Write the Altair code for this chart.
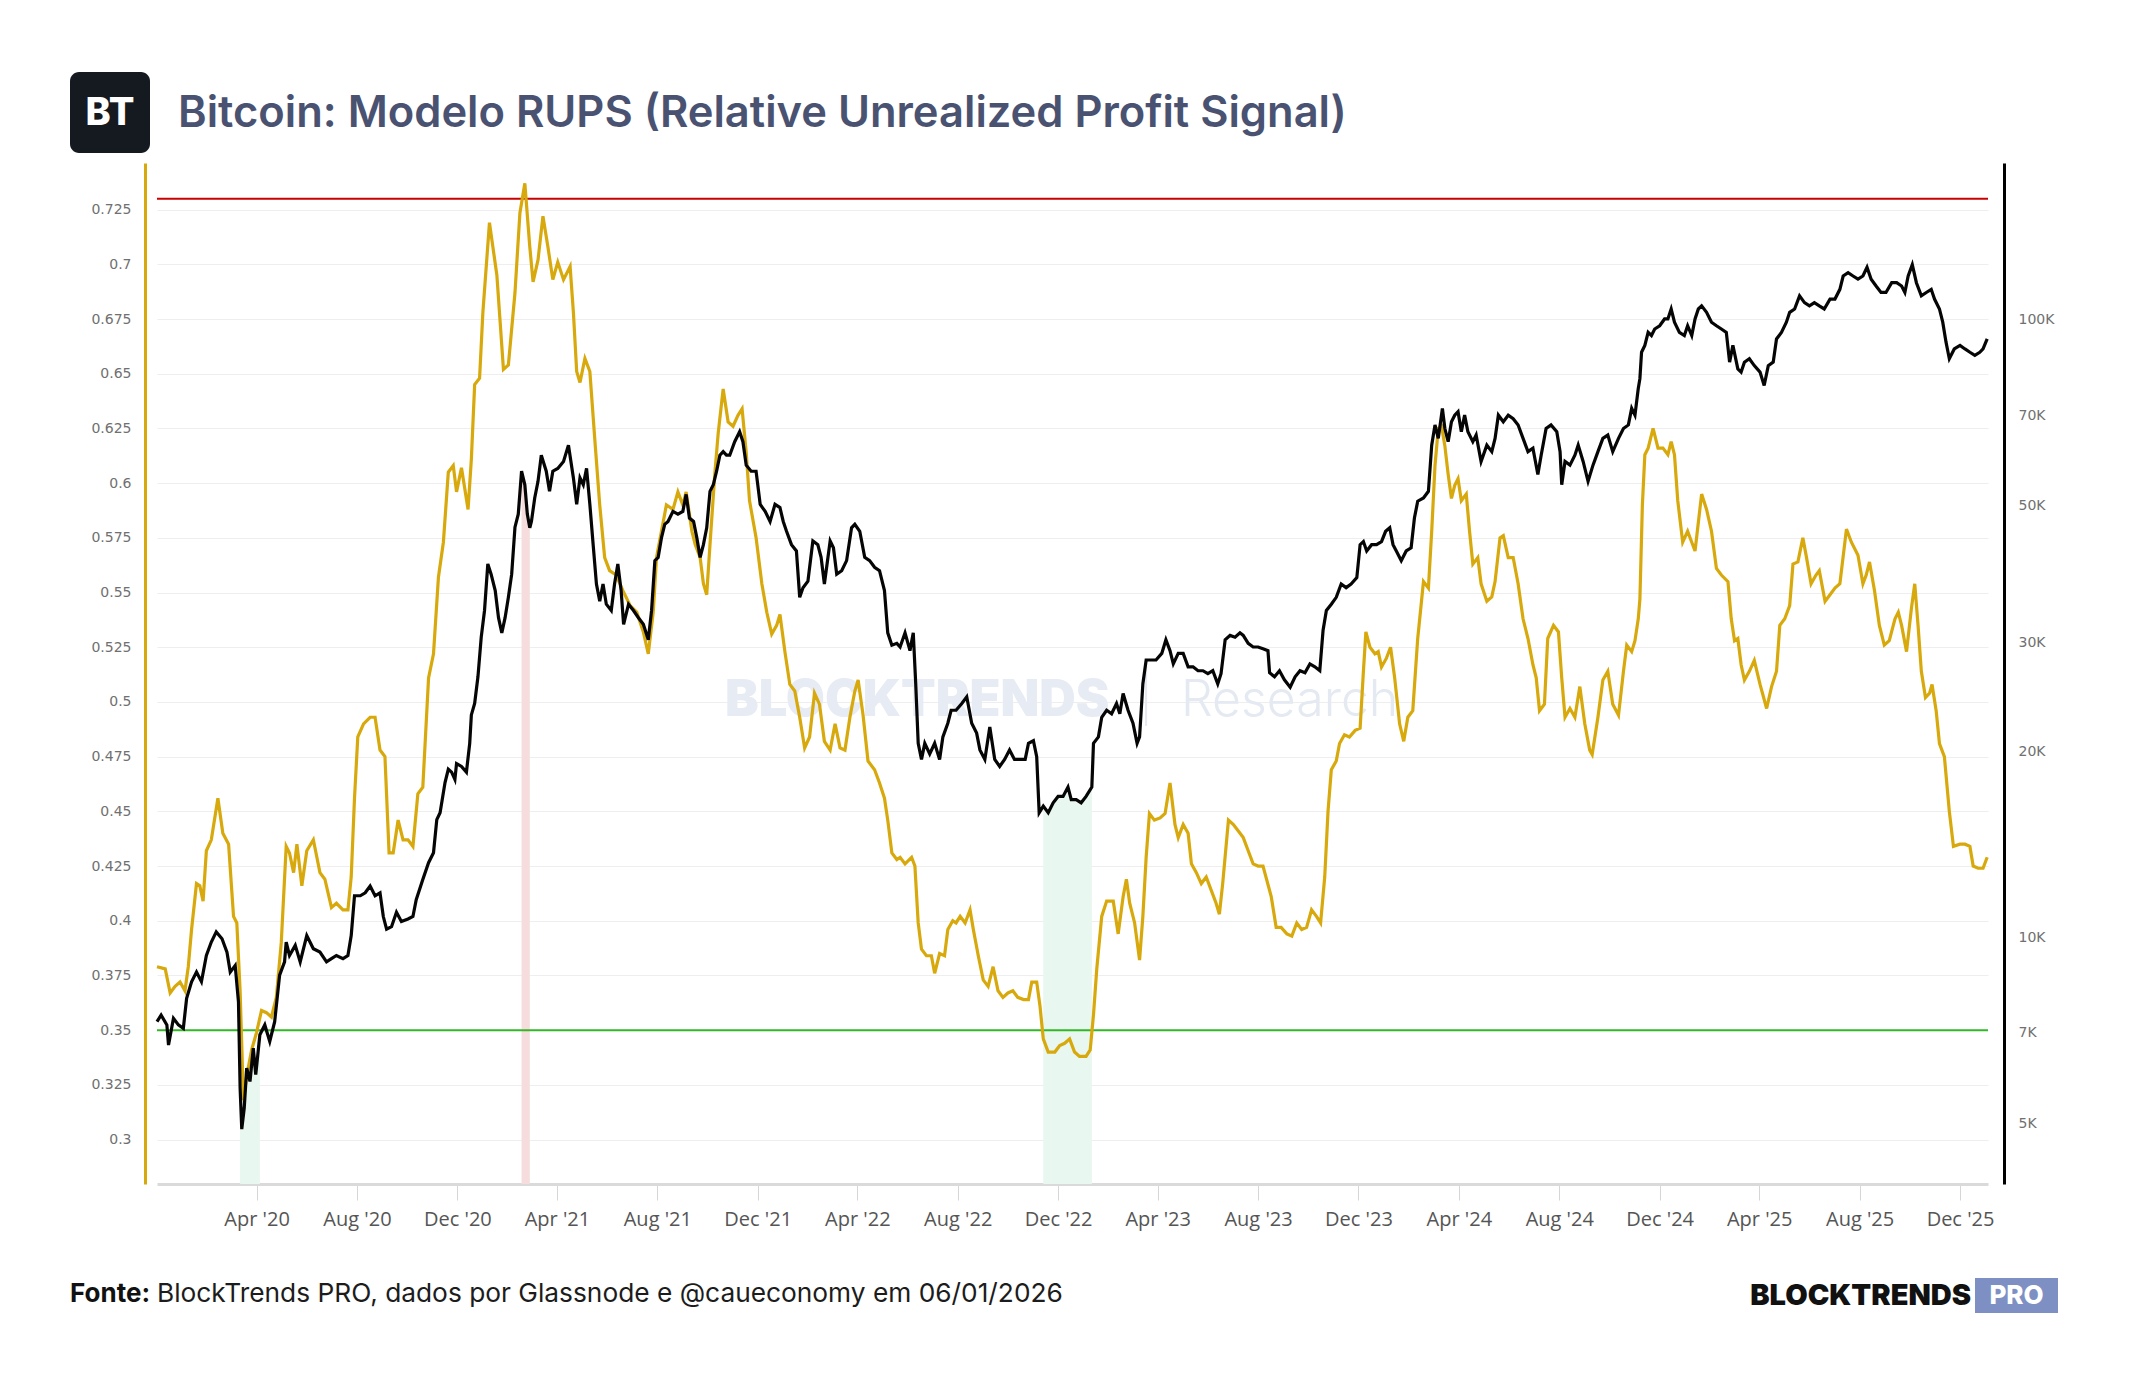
import altair as alt
import pandas as pd

# ---------------------------------------------------------------- data
START = "2019-12-01"  # day 0 of the day counters below

# Relative Unrealized Profit Signal (left axis)
rups_day = [
    1, 11, 17, 23, 29, 35, 39, 43, 49, 53, 57, 61, 67, 75, 81, 88, 94, 98, 102, 106,
    110, 116, 122, 128, 134, 140, 146, 152, 158, 162, 167, 171, 177, 183, 191, 199, 205, 213, 219, 227,
    233, 237, 241, 245, 252, 260, 266, 272, 278, 283, 288, 294, 300, 306, 312, 318, 324, 331, 337, 343,
    349, 355, 361, 365, 371, 379, 383, 387, 393, 397, 405, 414, 422, 428, 436, 442, 448,
    454, 458, 464, 470, 476, 482, 488, 495, 503, 507, 511, 515, 521, 527, 533, 539, 545, 551, 559,
    567, 576, 584, 592, 598, 604, 608, 614, 620, 628, 634, 640, 644, 651, 655, 661, 665, 669, 673, 679,
    683, 689, 695, 701, 707, 712, 717, 721, 729, 736, 742, 748, 754, 758, 764, 770, 776, 782, 788, 794,
    800, 806, 812, 819, 825, 831, 837, 843, 849, 853, 859, 865, 873, 879, 885, 889, 894, 900,
    904, 910, 918, 922, 926, 930, 936, 942, 946, 952, 958, 962, 968, 972, 977, 983, 989, 993, 999, 1005,
    1011, 1017, 1023, 1029, 1035, 1041, 1047, 1054, 1060, 1064, 1070, 1074, 1078, 1084, 1092, 1098, 1104, 1110, 1116, 1122,
    1130, 1135, 1139, 1143, 1149, 1155, 1163, 1169, 1175, 1179, 1183, 1189, 1195, 1199, 1203, 1207, 1213, 1220, 1226, 1232,
    1238, 1242, 1248, 1254, 1258, 1264, 1270, 1276, 1282, 1288, 1292, 1296, 1303, 1309, 1315, 1321, 1327, 1333, 1339, 1345,
    1355, 1361, 1367, 1374, 1380, 1386, 1392, 1398, 1404, 1410, 1415, 1420, 1424, 1428, 1434, 1438, 1444, 1450, 1457, 1463,
    1467, 1470, 1475, 1481, 1485, 1489, 1495, 1500, 1505, 1511, 1516, 1521, 1527, 1533, 1540, 1546, 1550, 1554, 1558, 1562,
    1566, 1570, 1574, 1578, 1582, 1586, 1592, 1596, 1600, 1606, 1610, 1617, 1623, 1627, 1633, 1637, 1643, 1649, 1655, 1661,
    1667, 1673, 1677, 1681, 1687, 1691, 1698, 1704, 1708, 1712, 1718, 1724, 1730, 1736, 1742, 1745, 1752, 1758, 1764, 1770,
    1777, 1783, 1787, 1793, 1797, 1801,
    1803, 1806, 1809, 1813, 1819, 1825, 1831, 1837, 1841, 1845, 1849, 1855, 1861, 1866, 1870, 1874, 1878, 1884, 1890, 1896,
    1902, 1910, 1914, 1918, 1922, 1926, 1930, 1936, 1942, 1949, 1957, 1963, 1969, 1973, 1979, 1985, 1989, 1995, 2001, 2005,
    2011, 2017, 2021, 2028, 2034, 2040, 2046, 2054, 2060, 2068, 2074, 2078, 2082, 2088, 2094, 2100, 2106, 2113, 2117, 2121,
    2127, 2133, 2137, 2141, 2145, 2150, 2155, 2158, 2163, 2167, 2173, 2179, 2184, 2192, 2198, 2204, 2208, 2214, 2220, 2225,
]
rups_value = [
    0.379, 0.378, 0.367, 0.370, 0.372, 0.368, 0.379, 0.396, 0.417, 0.416, 0.409, 0.432, 0.437, 0.456, 0.440, 0.435, 0.402, 0.399, 0.368, 0.318,
    0.329, 0.341, 0.349, 0.359, 0.358, 0.356, 0.365, 0.390, 0.434, 0.431, 0.422, 0.435, 0.416, 0.432, 0.437, 0.422, 0.419, 0.406, 0.408, 0.405,
    0.405, 0.420, 0.456, 0.484, 0.490, 0.493, 0.493, 0.478, 0.475, 0.431, 0.431, 0.446, 0.437, 0.437, 0.434, 0.458, 0.461, 0.511, 0.522, 0.557,
    0.573, 0.605, 0.608, 0.596, 0.607, 0.588, 0.611, 0.645, 0.648, 0.678, 0.719, 0.695, 0.652, 0.654, 0.687, 0.7235, 0.737,
    0.708, 0.692, 0.702, 0.722, 0.708, 0.693, 0.701, 0.693, 0.699, 0.678, 0.651, 0.646, 0.657, 0.651, 0.620, 0.590, 0.566, 0.560, 0.558,
    0.551, 0.544, 0.541, 0.532, 0.522, 0.541, 0.566, 0.578, 0.590, 0.588, 0.596, 0.590, 0.596, 0.578, 0.572, 0.566, 0.554, 0.549, 0.572, 0.605,
    0.623, 0.643, 0.628, 0.626, 0.631, 0.634, 0.614, 0.592, 0.575, 0.554, 0.541, 0.531, 0.535, 0.540, 0.523, 0.508, 0.505, 0.493, 0.479, 0.484,
    0.504, 0.499, 0.482, 0.478, 0.490, 0.479, 0.478, 0.493, 0.505, 0.510, 0.494, 0.473, 0.469, 0.463, 0.456, 0.446, 0.431, 0.428,
    0.429, 0.426, 0.429, 0.425, 0.399, 0.387, 0.384, 0.384, 0.376, 0.385, 0.384, 0.396, 0.400, 0.399, 0.402, 0.399, 0.405, 0.396, 0.384, 0.373,
    0.370, 0.379, 0.368, 0.365, 0.367, 0.368, 0.365, 0.364, 0.364, 0.372, 0.372, 0.361, 0.346, 0.340, 0.340, 0.343, 0.344, 0.346, 0.340, 0.338,
    0.338, 0.341, 0.357, 0.378, 0.402, 0.409, 0.409, 0.394, 0.411, 0.419, 0.408, 0.399, 0.382, 0.402, 0.429, 0.449, 0.446, 0.447, 0.449, 0.463,
    0.444, 0.438, 0.444, 0.440, 0.426, 0.422, 0.417, 0.420, 0.414, 0.408, 0.403, 0.417, 0.446, 0.444, 0.441, 0.438, 0.432, 0.426, 0.425, 0.425,
    0.411, 0.397, 0.397, 0.394, 0.393, 0.399, 0.396, 0.397, 0.405, 0.402, 0.399, 0.420, 0.450, 0.469, 0.473, 0.481, 0.485, 0.484, 0.487, 0.488,
    0.514, 0.532, 0.525, 0.522, 0.523, 0.516, 0.520, 0.525, 0.511, 0.490, 0.482, 0.493, 0.496, 0.529, 0.555, 0.552, 0.578, 0.608, 0.625, 0.626,
    0.617, 0.604, 0.593, 0.599, 0.602, 0.592, 0.595, 0.578, 0.563, 0.566, 0.554, 0.546, 0.548, 0.555, 0.575, 0.576, 0.566, 0.566, 0.554, 0.538,
    0.529, 0.517, 0.511, 0.496, 0.499, 0.529, 0.535, 0.532, 0.511, 0.493, 0.497, 0.493, 0.507, 0.490, 0.478, 0.476, 0.493, 0.510, 0.514, 0.499,
    0.494, 0.514, 0.526, 0.523, 0.528, 0.538,
    0.547, 0.590, 0.613, 0.616, 0.625, 0.616, 0.616, 0.613, 0.619, 0.613, 0.592, 0.573, 0.578, 0.573, 0.569, 0.582, 0.595, 0.588, 0.578, 0.561,
    0.558, 0.555, 0.538, 0.528, 0.529, 0.517, 0.510, 0.514, 0.519, 0.508, 0.497, 0.507, 0.514, 0.535, 0.538, 0.544, 0.563, 0.564, 0.575, 0.567,
    0.554, 0.558, 0.560, 0.546, 0.549, 0.552, 0.554, 0.579, 0.573, 0.567, 0.554, 0.558, 0.564, 0.551, 0.535, 0.526, 0.528, 0.538, 0.541, 0.535,
    0.523, 0.543, 0.554, 0.535, 0.514, 0.502, 0.504, 0.508, 0.496, 0.481, 0.475, 0.450, 0.434, 0.435, 0.435, 0.434, 0.425, 0.424, 0.424, 0.429,
]

# Bitcoin price in thousands of USD (right axis, log scale)
btc_day = [
    1, 6, 13, 15, 21, 27, 33, 37, 43, 49, 55, 61, 67, 73, 80, 86, 90, 96, 100, 102,
    104, 107, 110, 114, 118, 121, 126, 132, 138, 144, 150, 156, 158, 162, 169, 175, 183, 191, 199, 207,
    213, 219, 227, 233, 237, 241, 248, 254, 260, 266, 272, 276, 280, 286, 292, 298, 306, 312, 316, 324,
    331, 337, 341, 345, 351, 355, 359, 363, 365, 371, 377, 381, 383, 387, 391, 395, 399, 403, 407, 412,
    416, 420, 424, 428, 432, 436, 440, 444, 448, 451, 454,
    456, 460, 464, 468, 474, 478, 482, 488, 495, 501, 507, 511, 515, 519, 523, 527, 531, 535, 539, 543,
    547, 553, 557, 561, 565, 568, 574, 580, 586, 592, 598, 602, 606, 610, 614, 618, 622, 628, 634, 640,
    644, 648, 653, 657, 661, 665, 669, 673, 677, 681, 685, 689, 693, 697, 703, 709, 713, 717, 723, 729,
    734, 740, 746, 752, 758, 762, 766, 772, 778, 782, 786, 792, 798, 804, 808, 812, 819, 823, 827, 833,
    839, 845, 849, 855, 861, 867, 873, 879, 885, 889, 894, 900,
    904, 910, 916, 920, 923, 926, 930, 934, 940, 946, 952, 956, 962, 966, 972, 979, 985, 991, 997, 1001,
    1007, 1013, 1019, 1025, 1031, 1037, 1043, 1049, 1056, 1060, 1066, 1070, 1073, 1078, 1084, 1090, 1096, 1102, 1108, 1112,
    1118, 1124, 1130, 1137, 1139, 1145, 1149, 1155, 1161, 1167, 1171, 1175, 1181, 1187, 1192, 1195, 1199, 1203, 1209, 1215,
    1222, 1227, 1232, 1236, 1242, 1248, 1254, 1260, 1266, 1272, 1278, 1284, 1290, 1294, 1299, 1305, 1311, 1317, 1321, 1327,
    1333, 1339, 1345, 1351,
    1353, 1359, 1365, 1371, 1378, 1384, 1390, 1396, 1402, 1408, 1414, 1418, 1422, 1428, 1434, 1440, 1446, 1452, 1459, 1463,
    1467, 1471, 1477, 1483, 1489, 1494, 1499, 1503, 1507, 1513, 1519, 1525, 1529, 1533, 1540, 1546, 1550, 1554, 1558, 1563,
    1566, 1570, 1574, 1578, 1582, 1586, 1590, 1594, 1600, 1604, 1610, 1617, 1623, 1627, 1631, 1637, 1643, 1649, 1655, 1661,
    1667, 1673, 1679, 1683, 1689, 1695, 1702, 1706, 1708, 1712, 1718, 1724, 1728, 1734, 1740, 1746, 1752, 1758, 1764, 1770,
    1777, 1783, 1789, 1793, 1797, 1801,
    1803, 1805, 1809, 1813, 1817, 1821, 1827, 1833, 1837, 1841, 1845, 1851, 1857, 1861, 1866, 1870, 1874, 1878, 1884, 1890,
    1896, 1902, 1908, 1912, 1916, 1922, 1926, 1930, 1936, 1942, 1949, 1954, 1959, 1965, 1969, 1975, 1981, 1985, 1991, 1997,
    2003, 2009, 2015, 2021, 2027, 2034, 2040, 2046, 2050, 2056, 2062, 2068, 2074, 2079, 2084, 2090, 2096, 2102, 2109, 2115,
    2121, 2125, 2129, 2134, 2139, 2145, 2151, 2157, 2161, 2167, 2171, 2175, 2179, 2185, 2192, 2198, 2204, 2210, 2216, 2220,
    2225,
]
btc_kusd = [
    7.30, 7.48, 7.21, 6.69, 7.39, 7.21, 7.12, 7.96, 8.47, 8.78, 8.47, 9.34, 9.82, 10.2, 9.94, 9.46, 8.78, 9.00, 7.86, 5.70,
    4.89, 5.29, 6.14, 5.84, 6.61, 5.99, 6.95, 7.21, 6.78, 7.30, 8.68, 9.12, 9.82, 9.34, 9.70, 9.12, 10.06, 9.58, 9.46, 9.12,
    9.23, 9.34, 9.23, 9.34, 10.06, 11.67, 11.67, 11.8, 12.1, 11.67, 11.8, 10.8, 10.3, 10.4, 10.97, 10.6, 10.7, 10.8, 11.5, 12.4,
    13.2, 13.7, 15.5, 15.9, 17.8, 18.7, 18.5, 18.0, 19.1, 18.9, 18.5, 20.6, 22.9, 23.9, 26.4, 30.6, 33.8, 40.2, 38.7, 36.4,
    32.9, 31.1, 32.9, 35.5, 38.7, 46.1, 48.4, 56.8, 54.0, 48.4, 46.0,
    47.1, 51.4, 54.7, 60.3, 56.8, 52.7, 56.8, 57.4, 58.9, 62.6, 55.4, 50.2, 55.4, 54.0, 57.4, 50.2, 43.2, 37.3, 35.0, 37.3,
    34.6, 33.8, 37.3, 40.2, 36.4, 32.1, 34.6, 33.8, 32.9, 32.1, 30.3, 33.8, 40.7, 41.2, 44.3, 46.6, 47.1, 48.9, 48.4, 48.9,
    52.1, 47.7, 47.1, 44.3, 41.2, 43.2, 46.0, 52.7, 54.0, 56.8, 60.3, 61.1, 60.3, 60.3, 63.4, 65.8, 63.4, 58.1, 56.8, 56.8,
    50.2, 48.9, 47.1, 50.2, 49.6, 47.1, 45.4, 43.2, 42.2, 35.5, 36.8, 37.7, 43.8, 43.2, 41.2, 37.3, 43.8, 42.7, 38.7, 39.2,
    40.7, 46.0, 46.6, 45.4, 41.2, 40.7, 39.7, 39.2, 36.4, 31.1, 29.7, 29.9,
    29.5, 31.1, 29.1, 31.1, 25.7, 20.6, 19.4, 20.6, 19.8, 20.6, 19.4, 21.1, 22.2, 23.3, 23.3, 23.9, 24.5, 22.2, 21.4, 20.1,
    19.4, 21.9, 19.4, 18.9, 19.4, 20.1, 19.4, 19.4, 19.4, 20.6, 20.8, 19.6, 15.9, 16.3, 15.9, 16.5, 16.9, 16.9, 17.5, 16.7,
    16.7, 16.5, 16.9, 17.5, 20.6, 21.1, 22.7, 23.3, 23.0, 23.9, 23.0, 24.8, 23.3, 22.2, 20.6, 21.1, 25.7, 28.1, 28.1, 28.1,
    28.8, 30.3, 29.1, 27.7, 28.8, 28.8, 27.4, 27.4, 27.0, 27.0, 26.7, 27.0, 25.7, 26.7, 30.3, 30.8, 30.6, 31.1, 30.8, 29.9,
    29.5, 29.5, 29.3, 29.1,
    26.8, 26.4, 27.0, 26.1, 25.4, 26.4, 27.0, 26.8, 27.7, 27.4, 27.0, 31.4, 33.8, 34.6, 35.5, 37.3, 36.8, 37.3, 38.2, 43.2,
    43.7, 42.2, 43.2, 43.2, 43.7, 45.4, 46.0, 43.2, 42.2, 40.7, 42.2, 42.7, 47.7, 50.8, 51.4, 52.7, 62.6, 67.5, 64.2, 71.8,
    66.6, 63.4, 68.3, 70.0, 70.9, 65.8, 70.0, 65.8, 63.4, 65.0, 58.9, 62.6, 61.1, 64.2, 70.0, 68.3, 70.0, 69.1, 67.5, 64.2,
    61.1, 61.9, 56.1, 60.3, 66.6, 67.5, 65.8, 61.1, 54.0, 58.9, 58.1, 60.3, 62.6, 58.9, 54.7, 58.1, 61.1, 64.2, 65.0, 61.1,
    64.2, 66.6, 67.5, 71.8, 70.0, 77.3,
    80.2, 88.5, 90.8, 95.3, 94.2, 96.5, 97.7, 100.2, 100.2, 104.0, 99.0, 95.3, 94.2, 97.7, 94.2, 100.2, 104.0, 105.2, 102.7, 99.0,
    97.7, 96.5, 95.3, 85.3, 90.8, 83.2, 82.2, 85.3, 86.4, 84.2, 82.2, 78.2, 84.2, 85.3, 93.0, 95.3, 99.0, 102.7, 104.0, 109.2,
    106.5, 105.2, 106.5, 105.2, 104.0, 107.9, 107.9, 111.9, 117.6, 119.1, 117.6, 116.2, 117.6, 121.5, 116.2, 113.3, 110.6, 110.6, 114.7, 114.7,
    113.3, 110.6, 117.6, 122.7, 114.7, 109.2, 110.6, 111.9, 107.9, 104.0, 99.0, 91.9, 86.4, 89.6, 90.8, 89.6, 88.5, 87.5, 88.5, 89.6,
    93.0,
]

# Signal zones: RUPS above the top threshold (red) or below the bottom one (green)
zone_name = ["Mar 2020", "Feb 2021", "Nov 2022"]
zone_first_day = [102, 444, 1076]
zone_last_day = [127, 454, 1138]
zone_fill = ["#e8f7ef", "#f6dcdd", "#e8f7ef"]

RUPS_HIGH = 0.73
RUPS_LOW = 0.35

rups_ticks = [0.3, 0.325, 0.35, 0.375, 0.4, 0.425, 0.45, 0.475, 0.5,
              0.525, 0.55, 0.575, 0.6, 0.625, 0.65, 0.675, 0.7, 0.725]
price_ticks = [5000, 7000, 10000, 20000, 30000, 50000, 70000, 100000]
month_ticks = [
    "2020-04-01", "2020-08-01", "2020-12-01", "2021-04-01", "2021-08-01", "2021-12-01",
    "2022-04-01", "2022-08-01", "2022-12-01", "2023-04-01", "2023-08-01", "2023-12-01",
    "2024-04-01", "2024-08-01", "2024-12-01", "2025-04-01", "2025-08-01", "2025-12-01",
]

TITLE = "Bitcoin: Modelo RUPS (Relative Unrealized Profit Signal)"
SOURCE_LABEL = "Fonte:"
SOURCE_TEXT = "BlockTrends PRO, dados por Glassnode e @caueconomy em 06/01/2026"

# ---------------------------------------------------------------- styling
YELLOW = "#d8a90c"
BLACK = "#050505"
W, H = 1831, 1021
FONT = "Inter"
PRICE_MIN, PRICE_MAX = 3985, 179200


def as_dates(days):
    stamps = pd.Timestamp(START) + pd.to_timedelta(days, unit="D")
    return stamps.strftime("%Y-%m-%d").tolist()


def dt(text):
    ts = pd.Timestamp(text)
    return alt.DateTime(year=ts.year, month=ts.month, date=ts.day, utc=True)


rups_df = pd.DataFrame({"date": as_dates(rups_day), "rups": rups_value})
btc_df = pd.DataFrame({"date": as_dates(btc_day), "price": [k * 1000 for k in btc_kusd], "day": btc_day})

x_enc = alt.X(
    "date:T",
    scale=alt.Scale(type="utc", domain=[dt("2019-12-02"), dt("2026-01-04")]),
    axis=alt.Axis(
        values=[dt(m) for m in month_ticks], format="%b '%y", title=None, grid=False,
        domainColor="#dadada", domainWidth=3, tickColor="#d6d6d6", tickSize=16, tickWidth=1,
        labelPadding=9, labelFont="Open Sans", labelFontSize=20, labelColor="#555555",
        labelFlush=False, labelOverlap=False,
    ),
)

rups_scale = alt.Scale(domain=[0.2797, 0.7463], nice=False, zero=False)
price_scale = alt.Scale(type="log", domain=[PRICE_MIN, PRICE_MAX], nice=False)

# ---------------------------------------------------------------- layers
# shaded zones: the area under the price between each zone's first and last day
zone_rows = []
for name, first, last in zip(zone_name, zone_first_day, zone_last_day):
    part = btc_df[(btc_df["day"] >= first) & (btc_df["day"] <= last)].copy()
    part["zone"] = name
    part["floor"] = PRICE_MIN
    zone_rows.append(part)
zone_df = pd.concat(zone_rows, ignore_index=True)

zones = alt.Chart(zone_df).mark_area(opacity=1, interpolate="linear", orient="vertical").encode(
    x=x_enc,
    y=alt.Y("price:Q", scale=price_scale, axis=None, stack=None),
    y2="floor:Q",
    detail="zone:N",
    fill=alt.Fill("zone:N", scale=alt.Scale(domain=zone_name, range=zone_fill), legend=None),
)

wm_df = pd.DataFrame({"t": ["BLOCKTRENDS"]})
watermark = alt.layer(
    alt.Chart(wm_df).mark_text(font=FONT, fontWeight=900, fontSize=50.5, color="#e6ebf4",
                               align="left", baseline="middle").encode(
        x=alt.value(568), y=alt.value(538), text="t:N"),
    alt.Chart(pd.DataFrame({"t": ["|"]})).mark_text(font=FONT, fontWeight=200, fontSize=50, color="#e4e9f1",
                                                    align="center", baseline="middle").encode(
        x=alt.value(989), y=alt.value(536), text="t:N"),
    alt.Chart(pd.DataFrame({"t": ["Research"]})).mark_text(font=FONT, fontWeight=300, fontSize=50, color="#e4e9f2",
                                                           align="left", baseline="middle").encode(
        x=alt.value(1024), y=alt.value(538), text="t:N"),
)

thr_df = pd.DataFrame({"v": [RUPS_HIGH, RUPS_LOW], "c": ["#c80000", "#32b826"]})
rups_axis = alt.Axis(
    orient="left", values=rups_ticks, format=".3~f", title=None,
    grid=True, gridColor="#eeeeee", gridWidth=1,
    domainColor=YELLOW, domainWidth=3, ticks=False, offset=12, labelPadding=14,
    labelFont="DejaVu Sans", labelFontSize=14, labelColor="#707070",
)
thresholds = alt.Chart(thr_df).mark_rule(strokeWidth=2).encode(
    y=alt.Y("v:Q", scale=rups_scale, axis=rups_axis),
    stroke=alt.Stroke("c:N", scale=None),
)
rups_line = alt.Chart(rups_df).mark_line(color=YELLOW, strokeWidth=3.2, interpolate="linear").encode(
    x=x_enc,
    y=alt.Y("rups:Q", scale=rups_scale, axis=rups_axis),
)

# header and footer
logo_box = alt.Chart(pd.DataFrame({"t": ["BT"]})).mark_rect(color="#151920", cornerRadius=9).encode(
    x=alt.value(-87), x2=alt.value(-7), y=alt.value(-91), y2=alt.value(-10))
logo_text = alt.Chart(pd.DataFrame({"t": ["BT"]})).mark_text(
    font=FONT, fontWeight=800, fontSize=38, color="white", align="center", baseline="middle").encode(
    x=alt.value(-47), y=alt.value(-49), text="t:N")
title = alt.Chart(pd.DataFrame({"t": [TITLE]})).mark_text(
    font=FONT, fontWeight=600, fontSize=43.5, color="#4a5272", align="left", baseline="middle").encode(
    x=alt.value(21), y=alt.value(-49), text="t:N")
source_label = alt.Chart(pd.DataFrame({"t": [SOURCE_LABEL]})).mark_text(
    font=FONT, fontWeight=700, fontSize=26, color="#111111", align="left", baseline="middle").encode(
    x=alt.value(-87), y=alt.value(1131), text="t:N")
source_text = alt.Chart(pd.DataFrame({"t": [SOURCE_TEXT]})).mark_text(
    font=FONT, fontWeight=400, fontSize=26.3, color="#1c1c1c", align="left", baseline="middle").encode(
    x=alt.value(0), y=alt.value(1131), text="t:N")
brand = alt.Chart(pd.DataFrame({"t": ["BLOCKTRENDS"]})).mark_text(
    font=FONT, fontWeight=900, fontSize=29, color="#111111", align="right", baseline="middle").encode(
    x=alt.value(1814), y=alt.value(1133), text="t:N")
pro_box = alt.Chart(pd.DataFrame({"t": ["PRO"]})).mark_rect(color="#7e90c3").encode(
    x=alt.value(1818), x2=alt.value(1901), y=alt.value(1115), y2=alt.value(1150))
pro_text = alt.Chart(pd.DataFrame({"t": ["PRO"]})).mark_text(
    font=FONT, fontWeight=800, fontSize=26, color="white", align="center", baseline="middle").encode(
    x=alt.value(1859.5), y=alt.value(1133), text="t:N")

price_line = alt.Chart(btc_df).mark_line(color=BLACK, strokeWidth=3.2, interpolate="linear").encode(
    x=x_enc,
    y=alt.Y("price:Q", scale=price_scale, axis=alt.Axis(
        orient="right", values=price_ticks, labelExpr="datum.value / 1000 + 'K'", title=None,
        grid=False, domainColor="#000000", domainWidth=3, ticks=False, offset=16, labelPadding=14,
        labelFont="DejaVu Sans", labelFontSize=14, labelColor="#707070",
    )),
)

back = alt.layer(zones, watermark)
front = alt.layer(thresholds, rups_line, logo_box, logo_text, title,
                  source_label, source_text, brand, pro_box, pro_text)

chart = (
    alt.layer(back, front, price_line)
    .resolve_scale(y="independent")
    .properties(
        width=W, height=H,
        autosize=alt.AutoSizeParams(type="none"),
        padding={"left": 157, "top": 163, "right": 2144 - 157 - W, "bottom": 1400 - 163 - H},
        background="white",
    )
    .configure_view(stroke=None)
)

chart.save("out.html", embed_options={"renderer": "svg", "actions": False})
